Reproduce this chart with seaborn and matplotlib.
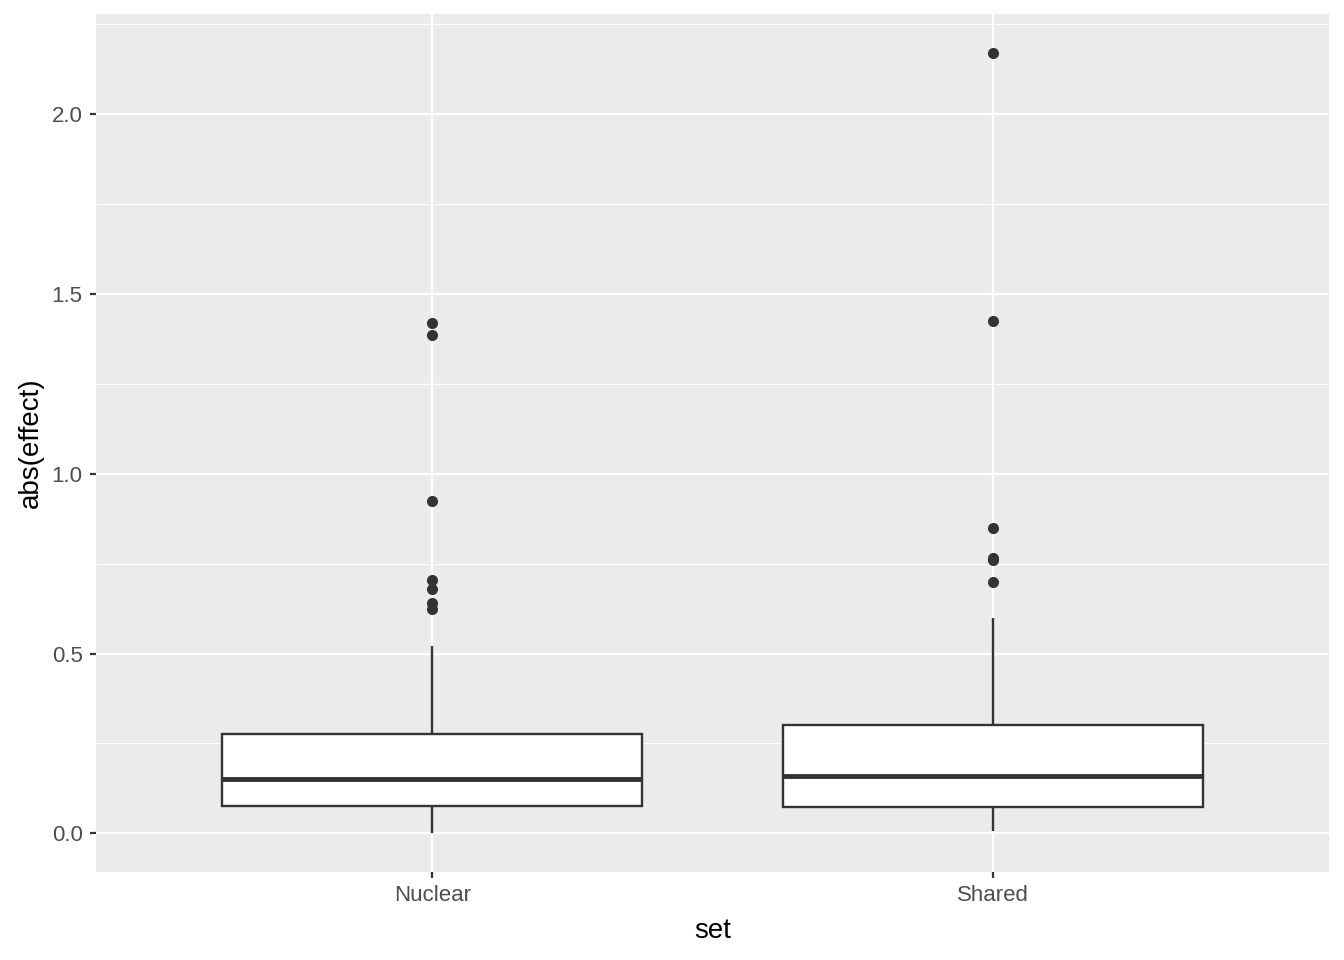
import numpy as np
import pandas as pd
import matplotlib
matplotlib.use("Agg")
import matplotlib.pyplot as plt
from matplotlib.ticker import MultipleLocator, FormatStrFormatter
import seaborn as sns

categories = ["Nuclear", "Shared"]
nuclear_values = [0.001, 0.01, 0.02, 0.03, 0.04, 0.05, 0.06, 0.07, 0.075,
                  0.09, 0.10, 0.11, 0.12, 0.13, 0.14, 0.15, 0.152,
                  0.17, 0.19, 0.21, 0.23, 0.24, 0.26, 0.27, 0.277,
                  0.521, 0.625, 0.64, 0.68, 0.705, 0.923, 1.386, 1.418]
shared_values = [0.006, 0.02, 0.03, 0.04, 0.05, 0.06, 0.065, 0.07, 0.072,
                 0.09, 0.10, 0.12, 0.13, 0.14, 0.15, 0.155, 0.160,
                 0.18, 0.20, 0.22, 0.24, 0.26, 0.28, 0.29, 0.300,
                 0.45, 0.600, 0.698, 0.759, 0.765, 0.848, 1.424, 2.170]

df = pd.DataFrame({
    "set": [categories[0]] * len(nuclear_values) + [categories[1]] * len(shared_values),
    "value": nuclear_values + shared_values,
})

sns.set_theme(style="white")
plt.rcParams["font.family"] = ["Liberation Sans", "DejaVu Sans"]

fig = plt.figure(figsize=(13.44, 9.6), dpi=100)
ax = fig.add_axes([96 / 1344, 1 - 872 / 960, (1329 - 96) / 1344, (872 - 14) / 960])
ax.set_facecolor("#EBEBEB")

dark = "#333333"
sns.boxplot(data=df, x="set", y="value", order=categories, ax=ax,
            color="white", saturation=1, width=0.75, whis=1.5,
            linecolor=dark, linewidth=1.7, showcaps=False,
            medianprops=dict(color=dark, linewidth=3.5),
            flierprops=dict(marker="o", markersize=8, markerfacecolor=dark,
                            markeredgecolor=dark, markeredgewidth=0),
            zorder=3)

vmin, vmax = df["value"].min(), df["value"].max()
rng = vmax - vmin
ax.set_ylim(vmin - 0.05 * rng, vmax + 0.05 * rng)
ax.set_xlim(-0.6, len(categories) - 1 + 0.6)

ax.yaxis.set_major_locator(MultipleLocator(0.5))
ax.yaxis.set_minor_locator(MultipleLocator(0.25))
ax.yaxis.set_major_formatter(FormatStrFormatter("%.1f"))

ax.grid(which="major", axis="both", color="white", linewidth=1.6, zorder=0)
ax.grid(which="minor", axis="y", color="white", linewidth=0.8, zorder=0)
ax.set_axisbelow(True)
for s in ax.spines.values():
    s.set_visible(False)

ax.tick_params(axis="both", which="major", length=4.4, width=1.6, color=dark,
               labelcolor="#4D4D4D", labelsize=16, pad=5.2,
               left=True, bottom=True)
ax.tick_params(axis="y", which="minor", length=0)

ax.set_xlabel("set", fontsize=20, color="black", labelpad=8.5)
ax.set_ylabel("abs(effect)", fontsize=20, color="black", labelpad=5.5)

fig.savefig("out.png", dpi=100)
